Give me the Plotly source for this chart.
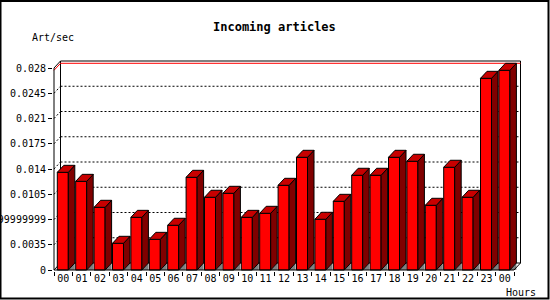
import plotly.graph_objects as go

hours = ["00", "01", "02", "03", "04", "05", "06", "07", "08", "09", "10", "11",
         "12", "13", "14", "15", "16", "17", "18", "19", "20", "21", "22", "23", "00"]
values = [0.01354, 0.01229, 0.00869, 0.00370, 0.00730, 0.00425, 0.00620, 0.01285,
          0.01008, 0.01063, 0.00730, 0.00786, 0.01174, 0.01562, 0.00703, 0.00952,
          0.01313, 0.01313, 0.01562, 0.01507, 0.00897, 0.01424, 0.01008, 0.02657, 0.02768]
ytick_vals = [0, 0.0035, 0.007, 0.0105, 0.014, 0.0175, 0.021, 0.0245, 0.028]
ytick_text = ["0", "0.0035", "0.00699999999", "0.0105", "0.014", "0.0175", "0.021", "0.0245", "0.028"]

title_text = "Incoming articles"
y_title = "Art/sec"
x_title = "Hours"

# ---- geometry (pixels) ----
W, H = 550, 300
ML, MR, MT, MB = 53, 29, 60, 29
CW = 18.4                    # px per category
VPX = 25.25 / 0.0035         # px per unit value
PW, PH = W - ML - MR, H - MT - MB
xmin = -0.5 - 1 / CW
xmax = xmin + PW / CW
ymin = -1 / VPX
ymax = ymin + PH / VPX
DX = 6.5 / CW                # depth offset in data units
DY = 7 / VPX
BAR_W = 11 / CW
BAR_OFF = -0.5 + 3.3 / CW

n = len(values)
idx = list(range(n))
xl, xr = -0.5, n - 0.5
ytop = ytick_vals[-1]

FRONT = "#FF0000"
TOP = "#C80000"
SIDE = "#800000"
SHADOW = "#808080"

fig = go.Figure()


def poly(xs, ys, fill):
    fig.add_trace(go.Scatter(x=xs + [xs[0]], y=ys + [ys[0]], mode="lines", fill="toself",
                             fillcolor=fill, line=dict(color="black", width=1),
                             hoverinfo="skip", showlegend=False))


for k, v in zip(idx, values):
    x0 = k + BAR_OFF
    x1 = x0 + BAR_W
    # shadow triangle on the floor
    fig.add_trace(go.Scatter(x=[x1, x1 + DX, x1 + DX, x1], y=[0, DY, 0, 0], mode="lines",
                             fill="toself", fillcolor=SHADOW, line=dict(width=0),
                             hoverinfo="skip", showlegend=False))
    poly([x1, x1 + DX, x1 + DX, x1], [0, DY, v + DY, v], SIDE)
    poly([x0, x0 + DX, x1 + DX, x1], [v, v + DY, v + DY, v], TOP)

fig.add_trace(go.Bar(x=idx, y=values, width=BAR_W, offset=BAR_OFF,
                     marker=dict(color=FRONT, line=dict(color="black", width=1)),
                     showlegend=False, hoverinfo="skip"))

shapes = []


def line(x0, y0, x1, y1, color="black", dash="solid", width=1, layer="below"):
    shapes.append(dict(type="line", xref="x", yref="y", x0=x0, y0=y0, x1=x1, y1=y1,
                       line=dict(color=color, width=width, dash=dash), layer=layer))


# grid lines on the back wall and left wall
for t in ytick_vals[1:-1]:
    line(xl + DX, t + DY, xr + DX, t + DY, dash="2px,2px")
    line(xl, t, xl + DX, t + DY, dash="2px,2px")
# back wall frame
line(xl + DX, ytop + DY, xr + DX, ytop + DY)
line(xl + DX, DY, xl + DX, ytop + DY)
line(xr + DX, DY, xr + DX, ytop + DY)
line(xl + DX, DY, xr + DX, DY)
# max value line
vmax = max(values)
line(xl, vmax, xl + DX, vmax + DY, color="#FF0000")
line(xl + DX, vmax + DY, xr + DX, vmax + DY, color="#FF0000")
# front frame
line(xl, 0, xl, ytop, layer="above")
line(xl, ytop, xl + DX, ytop + DY, layer="above")
line(xl, 0, xr, 0, layer="above")
line(xr, 0, xr + DX, DY, layer="above")
line(xl, 0, xl + DX, DY, layer="below")

# outer border
shapes.append(dict(type="rect", xref="paper", yref="paper",
                   x0=(0.5 - ML) / PW, x1=(548.5 - ML) / PW,
                   y0=(H - MB - 298.5) / PH, y1=(H - MB - 1) / PH,
                   line=dict(color="black", width=2), layer="above"))


def px_x(p):
    return (p - ML) / PW


def px_y(p):
    return (H - MB - p) / PH


FONT = "DejaVu Sans Mono"
annotations = [
    dict(text="<b>" + title_text + "</b>", x=px_x(274), y=px_y(27), xref="paper", yref="paper",
         showarrow=False, xanchor="center", yanchor="middle",
         font=dict(family=FONT, size=12, color="black")),
    dict(text=y_title, x=px_x(30), y=px_y(37), xref="paper", yref="paper",
         showarrow=False, xanchor="left", yanchor="middle",
         font=dict(family=FONT, size=10, color="black")),
    dict(text=x_title, x=px_x(504), y=px_y(292), xref="paper", yref="paper",
         showarrow=False, xanchor="left", yanchor="middle",
         font=dict(family=FONT, size=10, color="black")),
]

fig.update_layout(
    width=W, height=H,
    margin=dict(l=ML, r=MR, t=MT, b=MB, pad=0, autoexpand=False),
    paper_bgcolor="white", plot_bgcolor="white",
    shapes=shapes, annotations=annotations,
    showlegend=False, barmode="overlay",
    xaxis=dict(range=[xmin, xmax], showgrid=False, zeroline=False, showline=False,
               automargin=False,
               tickmode="array", tickvals=idx, ticktext=hours, ticks="",
               tickfont=dict(family=FONT, size=10, color="black"),
               minor=dict(tickmode="array", tickvals=[k - 0.5 for k in range(n + 1)],
                          ticks="outside", ticklen=4, tickcolor="black", tickwidth=1,
                          showgrid=False),
               fixedrange=True),
    yaxis=dict(range=[ymin, ymax], showgrid=False, zeroline=False, showline=False,
               automargin=False,
               tickmode="array", tickvals=ytick_vals, ticktext=ytick_text,
               ticks="outside", ticklen=4, tickcolor="black", tickwidth=1,
               tickfont=dict(family=FONT, size=10, color="black"),
               fixedrange=True),
)

fig.write_html("out.html", config={"displayModeBar": False, "staticPlot": True})
